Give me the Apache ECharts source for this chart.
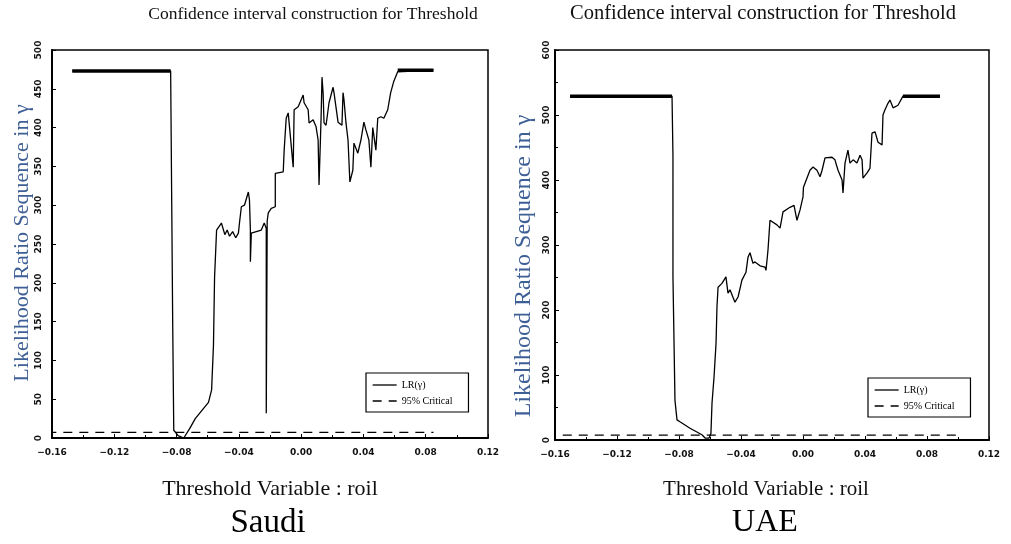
<!DOCTYPE html>
<html><head><meta charset="utf-8">
<script src="https://cdn.jsdelivr.net/npm/echarts@6/dist/echarts.min.js"></script>
<style>html,body{margin:0;padding:0;background:#fff}#c{width:1011px;height:544px}</style>
</head><body><div id="c"></div>
<script>
// ---- data ----
const saudiLR = [[-0.147,473],[-0.0838,473],[-0.0831,300],[-0.0825,150],[-0.0818,10],[-0.079,3],[-0.0754,0],[-0.0716,12],[-0.068,25],[-0.0595,46],[-0.0575,62],[-0.0563,120],[-0.0556,207],[-0.0543,268],[-0.0512,277],[-0.049,262],[-0.0475,268],[-0.046,260],[-0.044,266],[-0.042,258],[-0.0403,264],[-0.0396,277],[-0.0384,298],[-0.0364,300],[-0.0339,317],[-0.0332,307],[-0.0326,268],[-0.0326,227],[-0.032,264],[-0.0288,266],[-0.0256,268],[-0.0237,277],[-0.0224,270],[-0.0224,32],[-0.0218,280],[-0.0211,290],[-0.0192,296],[-0.0166,298],[-0.0166,341],[-0.0115,343],[-0.0109,371],[-0.0096,412],[-0.0083,419],[-0.0051,349],[-0.0045,423],[-0.0019,427],[0.0013,442],[0.0019,432],[0.0045,423],[0.0051,406],[0.0077,410],[0.0096,401],[0.0109,384],[0.0115,326],[0.0128,412],[0.0134,465],[0.0141,445],[0.0147,406],[0.016,403],[0.0179,432],[0.0205,452],[0.0211,445],[0.0237,407],[0.0262,403],[0.0269,445],[0.0275,436],[0.0288,406],[0.0301,384],[0.0313,330],[0.0332,345],[0.0339,380],[0.0364,367],[0.0384,384],[0.0403,407],[0.0416,397],[0.0435,384],[0.0448,349],[0.046,400],[0.048,371],[0.0492,412],[0.0512,414],[0.0531,412],[0.0556,423],[0.0575,445],[0.0594,459],[0.062,472],[0.062,474],[0.085,474]];
const uaeLR = [[-0.1503,529],[-0.0845,529],[-0.0839,438],[-0.0839,251],[-0.0826,61],[-0.0813,31],[-0.0794,28],[-0.0729,18],[-0.0652,8],[-0.0632,3],[-0.0606,3],[-0.0594,10],[-0.0587,57],[-0.0574,97],[-0.0561,149],[-0.0555,205],[-0.0548,235],[-0.0523,241],[-0.0497,251],[-0.0484,226],[-0.0471,231],[-0.0439,212],[-0.0419,220],[-0.0394,246],[-0.0368,258],[-0.0355,281],[-0.0342,288],[-0.0323,272],[-0.031,274],[-0.0277,268],[-0.0245,266],[-0.0239,261],[-0.0232,277],[-0.0226,292],[-0.0213,338],[-0.0168,331],[-0.0148,326],[-0.0129,351],[-0.0084,358],[-0.0058,361],[-0.0039,338],[-0.0019,354],[0,374],[0.0003,389],[0.0045,415],[0.0065,420],[0.009,415],[0.011,405],[0.0123,415],[0.0142,434],[0.0187,435],[0.0206,431],[0.0226,415],[0.0252,400],[0.0258,380],[0.0271,426],[0.029,446],[0.0303,426],[0.0323,431],[0.0348,426],[0.0368,438],[0.0381,431],[0.0387,403],[0.0413,411],[0.0432,418],[0.0445,472],[0.0465,474],[0.0484,458],[0.051,454],[0.0516,500],[0.0529,508],[0.0548,518],[0.0561,523],[0.0581,511],[0.0613,515],[0.0645,529],[0.0884,529]];
const critValue = 7.35;
const saudiCritX = [-0.163, 0.085];
const uaeCritX = [-0.155, 0.1];
const xTicks = {min: -0.16, max: 0.12, interval: 0.04};
const saudiY = {min: 0, max: 500, interval: 50};
const uaeY = {min: 0, max: 600, interval: 100};
const titleText = 'Confidence interval construction for Threshold';
const xName = 'Threshold Variable : roil';
const yName = 'Likelihood Ratio Sequence in γ';
const panels = ['Saudi', 'UAE'];
const seriesNames = ['LR(γ)', '95% Critical'];

// ---- chart ----
const serif = '"Liberation Serif","DejaVu Serif",serif';
const chart = echarts.init(document.getElementById('c'));
const grids = [{left: 52, top: 50, width: 436, height: 388}, {left: 555, top: 50, width: 434, height: 390}];
function xAxis(i) {
  return Object.assign({type: 'value', gridIndex: i, splitLine: {show: false},
    axisLine: {onZero: false, lineStyle: {color: '#000', width: 2}},
    axisTick: {inside: true, length: 4, lineStyle: {color: '#000'}},
    minorTick: {show: true, splitNumber: 2, length: 3, lineStyle: {color: '#000'}},
    axisLabel: {color: '#111', fontSize: 9, fontWeight: 'bold', fontFamily: 'DejaVu Sans', margin: 10,
      formatter: v => (v < 0 ? '\u2212' : '') + Math.abs(v).toFixed(2)}}, xTicks);
}
function yAxis(i, cfg) {
  return Object.assign({type: 'value', gridIndex: i, splitLine: {show: false},
    axisLine: {onZero: false, lineStyle: {color: '#000', width: 2}},
    axisTick: {inside: true, length: 4, lineStyle: {color: '#000'}},
    minorTick: {show: i === 1, splitNumber: 2, length: 3, lineStyle: {color: '#000'}},
    axisLabel: {color: '#111', fontSize: 9, fontWeight: 'bold', fontFamily: 'DejaVu Sans', rotate: 90, margin: i === 1 ? 4 : 9}}, cfg);
}
function lrSeries(i, data) {
  return [
    {name: seriesNames[0], type: 'line', xAxisIndex: i, yAxisIndex: i, data: data, symbol: 'none',
      lineStyle: {color: '#000', width: 1.3}, itemStyle: {color: '#000'}, animation: false},
    {type: 'line', xAxisIndex: i, yAxisIndex: i, data: data.slice(0, 2), symbol: 'none',
      lineStyle: {color: '#000', width: 3.5}, animation: false, silent: true},
    {type: 'line', xAxisIndex: i, yAxisIndex: i, data: data.slice(-2), symbol: 'none',
      lineStyle: {color: '#000', width: 3.5}, animation: false, silent: true}
  ];
}
function critSeries(i, xs) {
  return {name: seriesNames[1], type: 'line', xAxisIndex: i, yAxisIndex: i,
    data: xs.map(x => [x, critValue]), symbol: 'none',
    lineStyle: {color: '#000', width: 1.3, type: [9, 7]}, itemStyle: {color: '#000'}, animation: false};
}
function legend(left, top) {
  return {orient: 'vertical', left: left, top: top, data: seriesNames, itemWidth: 24, itemHeight: 8, itemGap: 6,
    borderColor: '#000', borderWidth: 1.2, padding: [7, 16, 6, 6], selectedMode: false,
    itemStyle: {opacity: 0}, lineStyle: {width: 1.3},
    textStyle: {fontFamily: serif, fontSize: 10, color: '#000'}};
}
function txt(x, y, text, size, color, rot) {
  return {type: 'text', x: x, y: y, rotation: rot || 0,
    style: {text: text, fill: color, font: size + 'px ' + serif, align: 'center', verticalAlign: 'middle'}};
}
chart.setOption({
  backgroundColor: '#fff',
  animation: false,
  grid: grids.map(g => Object.assign({show: true, borderColor: '#000', borderWidth: 1.5, backgroundColor: 'transparent'}, g)),
  xAxis: [xAxis(0), xAxis(1)],
  yAxis: [yAxis(0, saudiY), yAxis(1, uaeY)],
  legend: [legend(366, 373), legend(868, 378)],
  series: [].concat(lrSeries(0, saudiLR), [critSeries(0, saudiCritX)], lrSeries(1, uaeLR), [critSeries(1, uaeCritX)]),
  graphic: [
    txt(313, 14, titleText, 17.5, '#111'),
    txt(763, 14, titleText, 20.5, '#111'),
    txt(270, 489, xName, 22, '#111'),
    txt(766, 489, xName, 21, '#111'),
    txt(268, 523, panels[0], 33, '#000'),
    txt(765, 523, panels[1], 32, '#000'),
    txt(22, 243, yName, 22, '#3e5f96', Math.PI / 2),
    txt(524, 266, yName, 24, '#3e5f96', Math.PI / 2)
  ]
});
</script></body></html>
